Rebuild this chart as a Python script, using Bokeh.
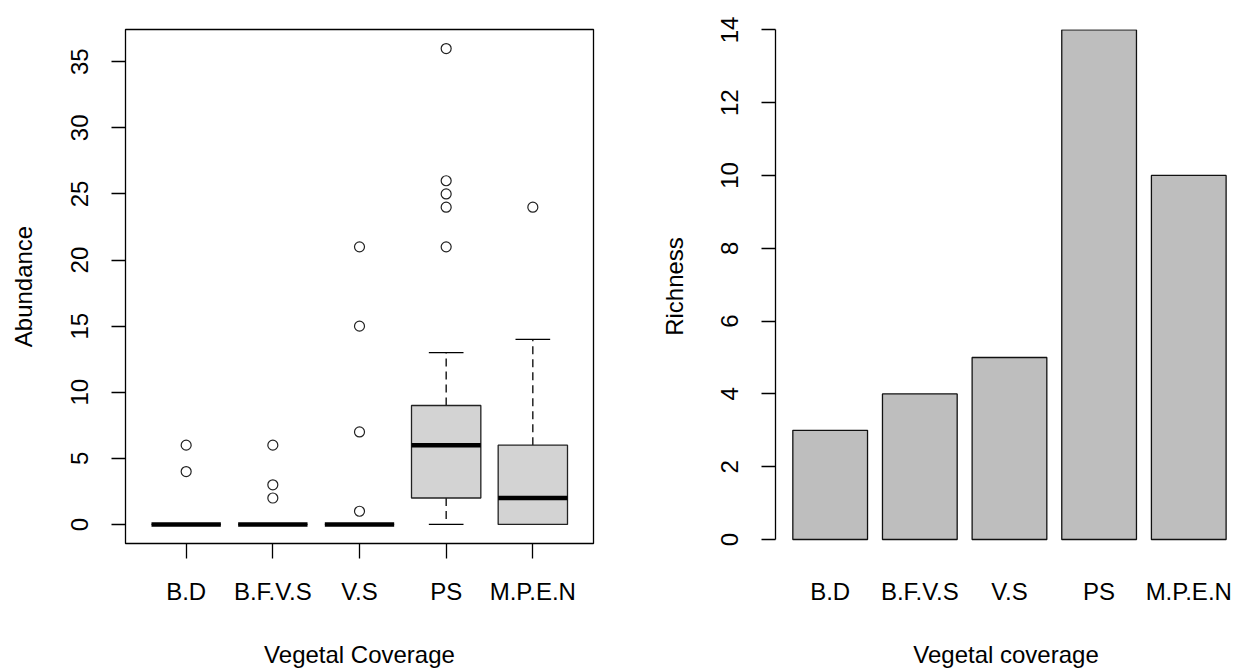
from bokeh.plotting import figure
from bokeh.layouts import row
from bokeh.models import Range1d, FixedTicker
from bokeh.embed import file_html
from bokeh.resources import INLINE

# ---------------- data ----------------
categories = ["B.D", "B.F.V.S", "V.S", "PS", "M.P.E.N"]

# boxplot statistics for Abundance
whisker_low = [0, 0, 0, 0, 0]
q1 = [0, 0, 0, 2, 0]
median = [0, 0, 0, 6, 2]
q3 = [0, 0, 0, 9, 6]
whisker_high = [0, 0, 0, 13, 14]
outliers = [[4, 6], [2, 3, 6], [1, 7, 15, 21], [21, 24, 25, 26, 36], [24]]

# bar heights for Richness
richness = [3, 4, 5, 14, 10]

abundance_ticks = [0, 5, 10, 15, 20, 25, 30, 35]
richness_ticks = [0, 2, 4, 6, 8, 10, 12, 14]

FONT = "Liberation Sans"
FS = "24px"
TOP = 29
BOTTOM = 127

# ---------------- left: boxplot ----------------
pos = [i + 1 for i in range(len(categories))]
boxw = 0.8
capw = 0.4

p1 = figure(width=640, height=670, output_backend="svg", toolbar_location=None,
            x_range=Range1d(0.3, 5.7), y_range=Range1d(-1.44, 37.44),
            min_border_left=125, min_border_right=47,
            min_border_top=TOP, min_border_bottom=BOTTOM)
p1.grid.visible = False
p1.outline_line_color = "black"
p1.outline_line_width = 1.3
p1.background_fill_color = "white"
p1.border_fill_color = "white"

# whiskers (dashed)
p1.segment(x0=pos, y0=q3, x1=pos, y1=whisker_high, line_color="black",
           line_width=1.3, line_dash="8 5")
p1.segment(x0=pos, y0=q1, x1=pos, y1=whisker_low, line_color="black",
           line_width=1.3, line_dash="8 5")
# caps
p1.segment(x0=[x - capw / 2 for x in pos], y0=whisker_high,
           x1=[x + capw / 2 for x in pos], y1=whisker_high,
           line_color="black", line_width=1.3)
p1.segment(x0=[x - capw / 2 for x in pos], y0=whisker_low,
           x1=[x + capw / 2 for x in pos], y1=whisker_low,
           line_color="black", line_width=1.3)
# boxes
p1.vbar(x=pos, width=boxw, bottom=q1, top=q3, fill_color="#D3D3D3",
        line_color="#222222", line_width=1.3)
# medians
p1.segment(x0=[x - boxw / 2 for x in pos], y0=median,
           x1=[x + boxw / 2 for x in pos], y1=median,
           line_color="black", line_width=4.5, line_cap="butt")
# outliers
ox, oy = [], []
for x, outs in zip(pos, outliers):
    for v in outs:
        ox.append(x)
        oy.append(v)
p1.scatter(ox, oy, size=10, marker="circle", fill_color=None,
           line_color="#222222", line_width=1.2)

# axes
xa = p1.xaxis[0]
xa.ticker = FixedTicker(ticks=pos)
xa.major_label_overrides = {x: c for x, c in zip(pos, categories)}
xa.axis_line_color = None
xa.major_tick_out = 15
xa.major_tick_in = 0
xa.major_tick_line_width = 1.3
xa.minor_tick_line_color = None
xa.major_label_standoff = 19
xa.major_label_text_font = FONT
xa.major_label_text_font_size = FS
xa.major_label_text_color = "black"
xa.axis_label = "Vegetal Coverage"
xa.axis_label_text_font = FONT
xa.axis_label_text_font_size = FS
xa.axis_label_text_font_style = "normal"
xa.axis_label_text_color = "black"
xa.axis_label_standoff = 33

ya = p1.yaxis[0]
ya.ticker = FixedTicker(ticks=abundance_ticks)
ya.axis_line_color = None
ya.major_tick_out = 14
ya.major_tick_in = 0
ya.major_tick_line_width = 1.3
ya.minor_tick_line_color = None
ya.major_label_orientation = "vertical"
ya.major_label_standoff = 23
ya.major_label_text_font = FONT
ya.major_label_text_font_size = FS
ya.major_label_text_color = "black"
ya.axis_label = "Abundance"
ya.axis_label_text_font = FONT
ya.axis_label_text_font_size = FS
ya.axis_label_text_font_style = "normal"
ya.axis_label_text_color = "black"
ya.axis_label_standoff = 32

# ---------------- right: barplot ----------------
bar_width = 1.0
space = 0.2
centers = [space + i * (bar_width + space) + bar_width / 2 for i in range(len(categories))]

p2 = figure(width=596, height=670, output_backend="svg", toolbar_location=None,
            x_range=Range1d(-0.032, 6.139), y_range=Range1d(-0.11, 14.01),
            min_border_left=135, min_border_right=0,
            min_border_top=TOP, min_border_bottom=BOTTOM)
p2.grid.visible = False
p2.outline_line_color = None
p2.background_fill_color = "white"
p2.border_fill_color = "white"

p2.vbar(x=centers, width=bar_width, bottom=0, top=richness,
        fill_color="#BEBEBE", line_color="#111111", line_width=1.3)

xb = p2.xaxis[0]
xb.ticker = FixedTicker(ticks=centers)
xb.major_label_overrides = {x: c for x, c in zip(centers, categories)}
xb.axis_line_color = None
xb.major_tick_line_color = None
xb.major_tick_out = 0
xb.major_tick_in = 0
xb.minor_tick_line_color = None
xb.major_label_standoff = 34
xb.major_label_text_font = FONT
xb.major_label_text_font_size = FS
xb.major_label_text_color = "black"
xb.axis_label = "Vegetal coverage"
xb.axis_label_text_font = FONT
xb.axis_label_text_font_size = FS
xb.axis_label_text_font_style = "normal"
xb.axis_label_text_color = "black"
xb.axis_label_standoff = 33

yb = p2.yaxis[0]
yb.ticker = FixedTicker(ticks=richness_ticks)
yb.bounds = (richness_ticks[0], richness_ticks[-1])
yb.axis_line_color = "black"
yb.axis_line_width = 1.3
yb.major_tick_out = 14
yb.major_tick_in = 0
yb.major_tick_line_width = 1.3
yb.minor_tick_line_color = None
yb.major_label_orientation = "vertical"
yb.major_label_standoff = 23
yb.major_label_text_font = FONT
yb.major_label_text_font_size = FS
yb.major_label_text_color = "black"
yb.axis_label = "Richness"
yb.axis_label_text_font = FONT
yb.axis_label_text_font_size = FS
yb.axis_label_text_font_style = "normal"
yb.axis_label_text_color = "black"
yb.axis_label_standoff = 31

layout = row(p1, p2)
open("out.html", "w").write(file_html(layout, INLINE))
